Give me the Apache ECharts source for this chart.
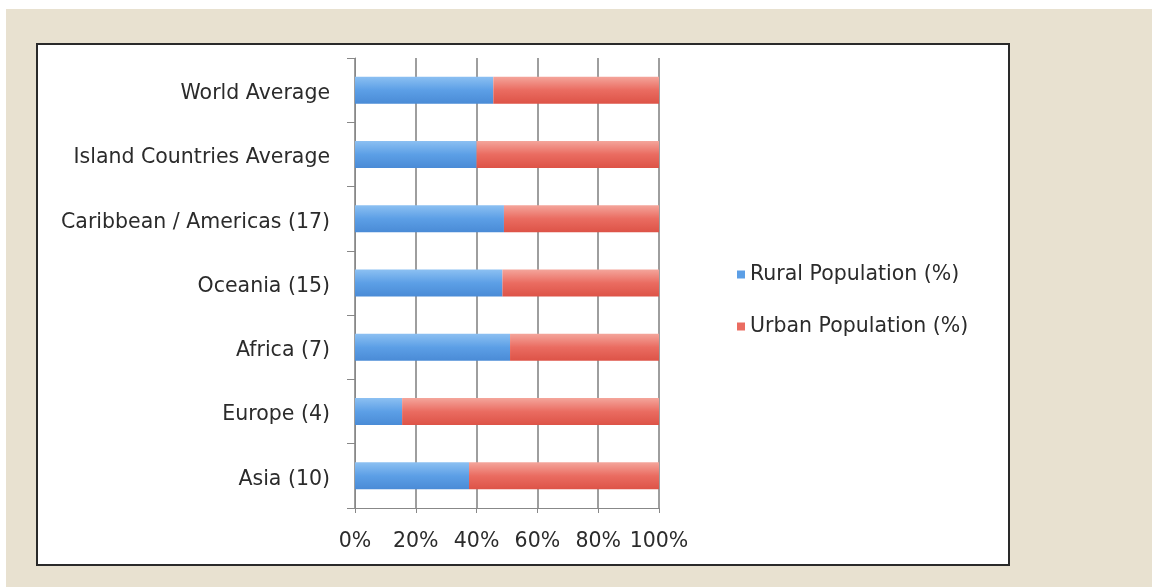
<!DOCTYPE html>
<html>
<head>
<meta charset="utf-8">
<script src="https://cdn.jsdelivr.net/npm/echarts@6/dist/echarts.min.js"></script>
<style>
  html, body { margin: 0; padding: 0; background: #ffffff; }
  #bg { position: absolute; left: 6px; top: 9px; width: 1146px; height: 578px; background: #e8e1d0; }
  #main { position: absolute; left: 36px; top: 43px; width: 974px; height: 523px;
          box-sizing: border-box; border: 2px solid #2a2a2a; background: #ffffff; }
</style>
</head>
<body>
<div id="bg"></div>
<div id="main"></div>
<script>
// categories bottom to top, like the picture
var categories = ['Asia (10)', 'Europe (4)', 'Africa (7)', 'Oceania (15)',
                  'Caribbean / Americas (17)', 'Island Countries Average', 'World Average'];
var rural = [37.5, 15.5, 51, 48.5, 49, 40, 45.5];
var urban = [62.5, 84.5, 49, 51.5, 51, 60, 54.5];
var xTicks = [0, 20, 40, 60, 80, 100];

var myChart = echarts.init(document.getElementById('main'));

var blue = new echarts.graphic.LinearGradient(0, 0, 0, 1, [
    {offset: 0, color: '#8cc0f2'},
    {offset: 0.5, color: '#5c9fe6'},
    {offset: 1, color: '#4a8bd6'}
]);
var red = new echarts.graphic.LinearGradient(0, 0, 0, 1, [
    {offset: 0, color: '#f4a59b'},
    {offset: 0.5, color: '#ea6c61'},
    {offset: 1, color: '#dd5347'}
]);

var font = 'DejaVu Sans';

var option = {
    backgroundColor: '#ffffff',
    animation: false,
    textStyle: { fontFamily: font },
    legend: {
        orient: 'vertical',
        left: 694,
        top: 214,
        itemWidth: 8,
        itemHeight: 8,
        itemGap: 31,
        icon: 'rect',
        textStyle: { fontSize: 20.5, color: '#2b2b2b', fontFamily: font },
        data: [
            {name: 'Rural Population (%)', itemStyle: {color: '#5c9fe6'}},
            {name: 'Urban Population (%)', itemStyle: {color: '#ea6c61'}}
        ]
    },
    grid: {
        left: 317,
        top: 13,
        width: 304,
        height: 450
    },
    xAxis: {
        type: 'value',
        min: 0,
        max: 100,
        interval: 20,
        axisLine: { show: true, lineStyle: { color: '#888', width: 1 } },
        axisTick: { show: true, length: 5, lineStyle: { color: '#888' } },
        axisLabel: {
            fontSize: 20.5, color: '#2b2b2b', margin: 23, fontFamily: font,
            formatter: function (v) { return xTicks.indexOf(v) >= 0 ? v + '%' : ''; }
        },
        splitLine: { show: true, lineStyle: { color: '#7e7e7e', width: 1.5 } }
    },
    yAxis: {
        type: 'category',
        data: categories,
        axisLine: { show: true, lineStyle: { color: '#888', width: 1 } },
        axisTick: { show: true, length: 8, lineStyle: { color: '#888' } },
        axisLabel: {
            margin: 25,
            formatter: function (v) { return '{c|' + v + '}'; },
            rich: {
                c: { fontSize: 20.5, color: '#2b2b2b', fontFamily: font, padding: [7, 0, 0, 0] }
            }
        }
    },
    series: [
        {
            name: 'Rural Population (%)',
            type: 'bar',
            stack: 'pop',
            barWidth: 27,
            itemStyle: { color: blue },
            data: rural
        },
        {
            name: 'Urban Population (%)',
            type: 'bar',
            stack: 'pop',
            barWidth: 27,
            itemStyle: { color: red },
            data: urban
        }
    ]
};
myChart.setOption(option);
</script>
</body>
</html>
